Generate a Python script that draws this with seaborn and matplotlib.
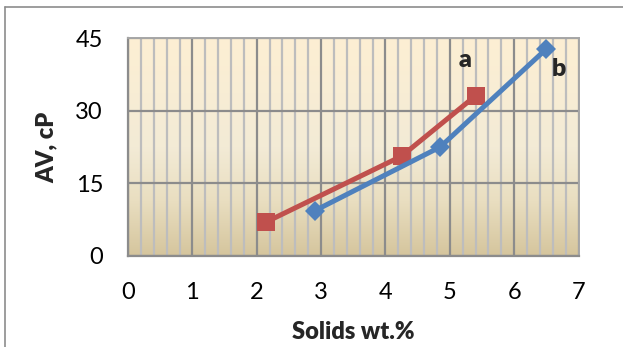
import numpy as np
import pandas as pd
import seaborn as sns
import matplotlib
matplotlib.use("Agg")
import matplotlib.pyplot as plt
from matplotlib.colors import LinearSegmentedColormap
from matplotlib.lines import Line2D

# data
solids_a = [2.15, 4.25, 5.4]
av_a = [7.0, 20.6, 33.1]
solids_b = [2.9, 4.85, 6.5]
av_b = [9.3, 22.5, 42.8]
x_ticks = [0, 1, 2, 3, 4, 5, 6, 7]
y_ticks = [0, 15, 30, 45]

sns.set_style("white")
plt.rcParams['font.family'] = ['Lato', 'DejaVu Sans']

fig = plt.figure(figsize=(6.23, 3.47), dpi=100)
ax = fig.add_axes([0.2055, 0.2631, 0.7231, 0.6265])

# gradient background
cmap = LinearSegmentedColormap.from_list(
    "bg", [(0.0, "#D5C59D"), (0.25, "#E9DEC0"), (0.5, "#F3EBD6"), (1.0, "#FDEFD3")])
grad = np.linspace(0, 1, 256).reshape(-1, 1)
ax.imshow(grad, extent=[0, 7, 0, 45], origin="lower", aspect="auto",
          cmap=cmap, zorder=0)

ax.set_xlim(0, 7)
ax.set_ylim(0, 45)
ax.set_xticks(x_ticks)
ax.set_yticks(y_ticks)
ax.set_xticks(np.arange(0, 7.01, 0.2), minor=True)

ax.grid(which="major", axis="both", color="#8C8C8C", linewidth=1.6, zorder=1)
ax.grid(which="minor", axis="x", color="#BDBDBD", linewidth=1.6, zorder=1)
ax.set_axisbelow(True)

df_a = pd.DataFrame({"x": solids_a, "y": av_a})
df_b = pd.DataFrame({"x": solids_b, "y": av_b})
sns.lineplot(data=df_a, x="x", y="y", ax=ax, color="#C0504D", linewidth=3.6,
             marker="s", markersize=13.5, markeredgewidth=0, zorder=3)
sns.lineplot(data=df_b, x="x", y="y", ax=ax, color="#4F81BD", linewidth=3.6,
             marker="D", markersize=10, markeredgewidth=0, zorder=4)

ax.text(5.24, 40.6, "a", fontsize=18, fontweight="heavy", ha="center", va="center", zorder=5)
ax.text(6.7, 38.6, "b", fontsize=18, fontweight="heavy", ha="center", va="center", zorder=5)

for s in ["left", "bottom"]:
    ax.spines[s].set_color("#8C8C8C")
    ax.spines[s].set_linewidth(1.6)
for s in ["top", "right"]:
    ax.spines[s].set_color("#A6A6A6")
    ax.spines[s].set_linewidth(1.4)

ax.tick_params(axis="both", which="major", length=6, width=1.6, color="#8C8C8C",
               labelsize=17, labelcolor="black")
ax.tick_params(axis="x", which="minor", length=0)
ax.tick_params(axis="x", which="major", pad=13)
ax.tick_params(axis="y", which="major", pad=12)

ax.set_xlabel("Solids wt.%", fontsize=17, fontweight="heavy", labelpad=13)
ax.set_ylabel("AV, cP", fontsize=17, fontweight="heavy", labelpad=13)

# outer chart border (left and top visible)
fig.add_artist(Line2D([0.0075, 0.0075], [0.0, 0.98], transform=fig.transFigure,
                      color="#8C8C8C", linewidth=1.2))
fig.add_artist(Line2D([0.0075, 1.0], [0.98, 0.98], transform=fig.transFigure,
                      color="#8C8C8C", linewidth=1.2))

fig.savefig("out.png", dpi=100)
